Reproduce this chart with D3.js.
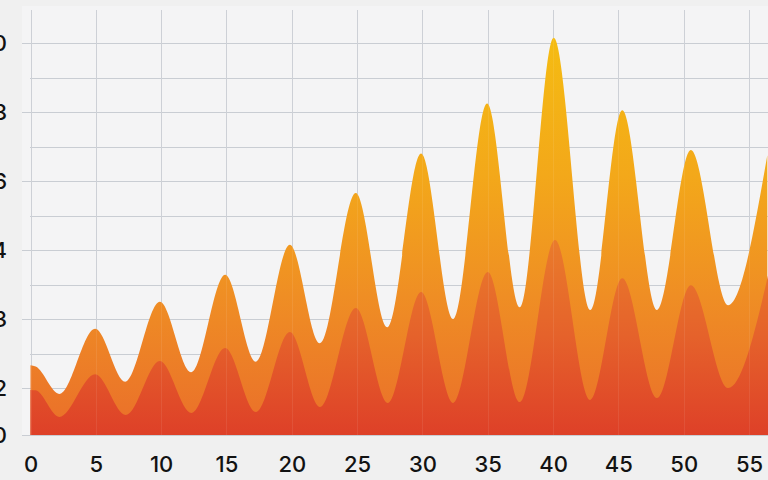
<!DOCTYPE html>
<html>
<head>
<meta charset="utf-8">
<script src="https://cdn.jsdelivr.net/npm/d3@7"></script>
<style>
  html, body { margin: 0; padding: 0; background: #f0f0f0; }
  svg { display: block; }
</style>
</head>
<body>
<svg id="chart" width="768" height="480"></svg>
<script>
// ---- data ----
const xTicks = [0, 5, 10, 15, 20, 25, 30, 35, 40, 45, 50, 55];
const yTicks = [0, 2, 3, 4, 6, 8, 10];
const yMinorTicks = [2.5, 3.5, 5, 7, 9];

// back (taller, yellow-orange) series
const backX = [0, 0.4, 2.2, 4.95, 7.25, 9.9, 12.3, 14.9, 17.25, 19.85, 22.15, 24.9, 27.3, 29.9, 32.35, 34.95, 37.45, 40.05, 42.85, 45.3, 47.95, 50.55, 53.4, 56.4];
const backY = [2.33, 2.31, 1.75, 2.86, 2.09, 3.25, 2.23, 3.64, 2.38, 4.15, 2.65, 5.65, 2.88, 6.8, 3.0, 8.25, 3.17, 10.15, 3.13, 8.05, 3.13, 6.9, 3.2, 6.75];

// front (lower, red-orange) series
const frontX = [0, 0.4, 2.2, 4.95, 7.3, 9.9, 12.3, 14.9, 17.25, 19.85, 22.15, 24.9, 27.35, 29.9, 32.35, 35.0, 37.45, 40.15, 42.85, 45.3, 47.95, 50.55, 53.4, 56.6];
const frontY = [1.92, 1.9, 0.77, 2.2, 0.85, 2.39, 0.94, 2.58, 0.98, 2.81, 1.19, 3.16, 1.36, 3.39, 1.36, 3.68, 1.4, 4.29, 1.49, 3.59, 1.57, 3.49, 2.0, 3.75];

// ---- layout ----
const svg = d3.select("#chart");
const W = 768, H = 480;

const x = d3.scaleLinear().domain([0, 55]).range([30.5, 749]);
const y = d3.scaleLinear().domain([0, 2, 3, 4, 10]).range([435, 388, 319, 250, 43]);

// panel
svg.append("rect").attr("x", 22).attr("y", 6).attr("width", W - 22).attr("height", 430)
  .attr("fill", "#f4f4f5");

// gradients
const defs = svg.append("defs");
const gBack = defs.append("linearGradient").attr("id", "gBack")
  .attr("gradientUnits", "userSpaceOnUse").attr("x1", 0).attr("x2", 0)
  .attr("y1", y(10.2)).attr("y2", y(0));
[[0, "#f5bc12"], [0.35, "#f3a81a"], [0.65, "#ef8e24"], [1, "#ea6e2a"]].forEach(([o, c]) =>
  gBack.append("stop").attr("offset", o).attr("stop-color", c));

const gFront = defs.append("linearGradient").attr("id", "gFront")
  .attr("gradientUnits", "userSpaceOnUse").attr("x1", 0).attr("x2", 0)
  .attr("y1", y(4.4)).attr("y2", y(0));
[[0, "#ea7c2b"], [0.5, "#e5622b"], [1, "#de4028"]].forEach(([o, c]) =>
  gFront.append("stop").attr("offset", o).attr("stop-color", c));

// grid
const grid = svg.append("g").attr("stroke", "#c9cdd3").attr("stroke-width", 1).attr("shape-rendering", "crispEdges");
grid.selectAll(".hmaj").data(yTicks).join("line")
  .attr("x1", 22).attr("x2", W)
  .attr("y1", d => Math.round(y(d)) + 0.5).attr("y2", d => Math.round(y(d)) + 0.5);
grid.selectAll(".hmin").data(yMinorTicks).join("line")
  .attr("x1", 30).attr("x2", W)
  .attr("y1", d => Math.round(y(d)) + 0.5).attr("y2", d => Math.round(y(d)) + 0.5);
grid.selectAll(".v").data(xTicks).join("line")
  .attr("y1", 10).attr("y2", y(0))
  .attr("x1", d => Math.round(x(d)) + 0.5).attr("x2", d => Math.round(x(d)) + 0.5);

// areas
const area = d3.area()
  .x(d => x(d[0])).y0(y(0)).y1(d => y(d[1]))
  .curve(d3.curveMonotoneX);

svg.append("path").datum(d3.zip(backX, backY))
  .attr("fill", "url(#gBack)").attr("d", area);
svg.append("path").datum(d3.zip(frontX, frontY))
  .attr("fill", "url(#gFront)").attr("d", area);

// faint grid lines over the areas
svg.append("g").attr("stroke", "#ffffff").attr("stroke-opacity", 0.08)
  .selectAll("line").data(xTicks).join("line")
  .attr("y1", 10).attr("y2", y(0))
  .attr("x1", d => Math.round(x(d)) + 0.5).attr("x2", d => Math.round(x(d)) + 0.5);

// x axis labels
const xAxis = d3.axisBottom(x).tickValues(xTicks).tickSize(0).tickPadding(0).tickFormat(d3.format("d"));
const gx = svg.append("g").attr("transform", `translate(0, 472)`).call(xAxis);
gx.select(".domain").remove();
gx.selectAll("text")
  .attr("dy", 0).attr("y", 0)
  .attr("fill", "#121212")
  .style("font-family", "Inter, 'Open Sans', sans-serif")
  .style("font-size", "22px").style("font-weight", 500);

// y axis labels (cut off at left edge, as in the reference)
const yAxis = d3.axisLeft(y).tickValues(yTicks).tickSize(0).tickPadding(0).tickFormat(d3.format("d"));
const gy = svg.append("g").attr("transform", `translate(7, 0)`).call(yAxis);
gy.select(".domain").remove();
gy.selectAll("text")
  .attr("fill", "#121212")
  .style("font-family", "Inter, 'Open Sans', sans-serif")
  .style("font-size", "22px").style("font-weight", 500);
</script>
</body>
</html>
